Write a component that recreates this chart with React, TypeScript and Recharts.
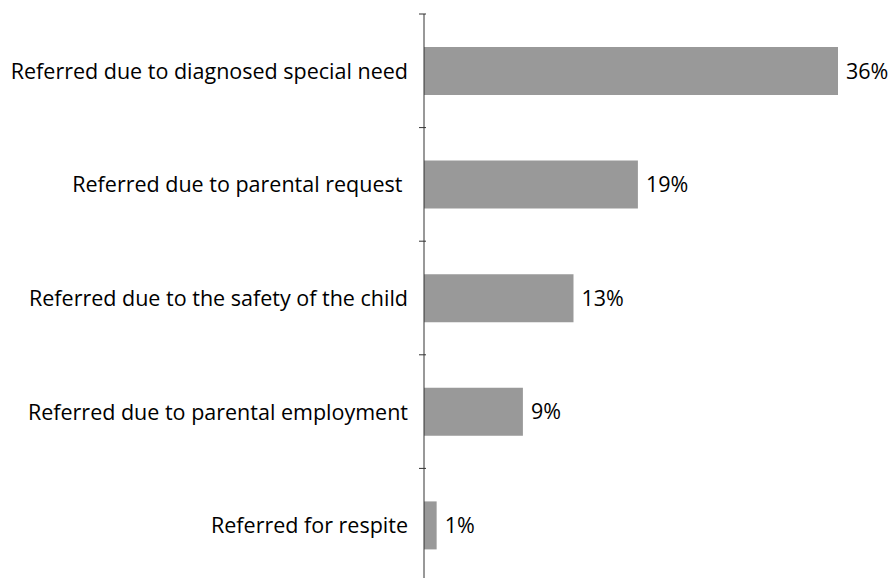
import React from "react"
import { BarChart, Bar, XAxis, YAxis, LabelList } from "recharts"

const categories = [
  "Referred due to diagnosed special need",
  "Referred due to parental request ",
  "Referred due to the safety of the child",
  "Referred due to parental employment",
  "Referred for respite",
]
const shares = [36, 18.6, 13, 8.6, 1.1]
const shareLabels = ["36%", "19%", "13%", "9%", "1%"]

const data = categories.map((name, i) => ({ name, value: shares[i], label: shareLabels[i] }))

const FONT = "'Open Sans', sans-serif"

function CategoryTick(props: any) {
  const { x, y, payload, index, visibleTicksCount } = props
  const half = payload.offset ?? 56.8
  const axisX = x + 8
  return (
    <g>
      <line x1={axisX - 7} x2={axisX} y1={y - half} y2={y - half} stroke="#333" />
      {index === visibleTicksCount - 1 && (
        <line x1={axisX - 7} x2={axisX} y1={y + half} y2={y + half} stroke="#333" />
      )}
      <text
        x={x - 10}
        y={y}
        dy={8}
        textAnchor="end"
        fill="#000"
        fontSize={21.5}
        fontFamily={FONT}
        xmlSpace="preserve"
        style={{ whiteSpace: "pre" }}
      >
        {payload.value}
      </text>
    </g>
  )
}

export default function App() {
  return (
    <div style={{ position: "absolute", left: 0, top: 0, width: 894, height: 578, overflow: "hidden", background: "#fff" }}>
      <BarChart
        width={894}
        height={582}
        data={data}
        layout="vertical"
        margin={{ top: 14, right: 56, bottom: 0, left: 0 }}
        barCategoryGap={33}
      >
        <XAxis type="number" domain={[0, 36]} hide />
        <YAxis
          type="category"
          dataKey="name"
          width={424}
          axisLine={{ stroke: "#333" }}
          tickLine={false}
          tick={<CategoryTick />}
          tickMargin={0}
        />
        <Bar dataKey="value" fill="#999999" isAnimationActive={false}>
          <LabelList
            dataKey="label"
            position="right"
            offset={8}
            fill="#000"
            fontSize={21.5}
            fontFamily={FONT}
          />
        </Bar>
      </BarChart>
    </div>
  )
}
